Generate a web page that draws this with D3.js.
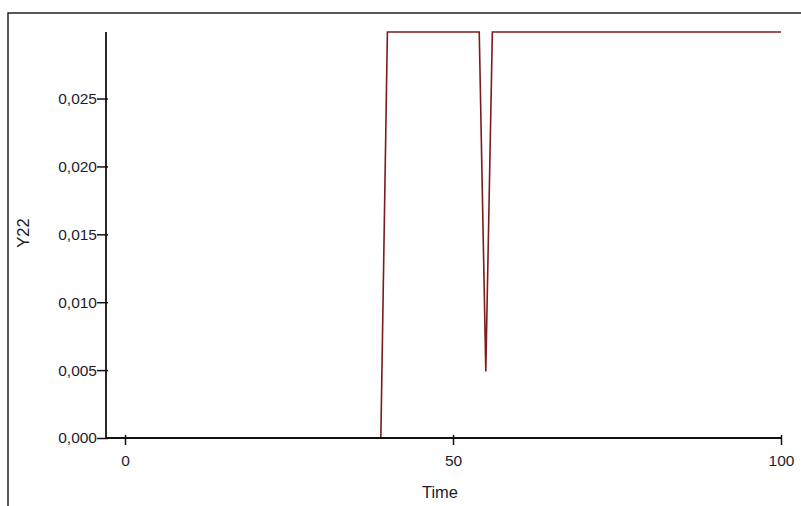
<!DOCTYPE html>
<html><head><meta charset="utf-8">
<script src="https://cdn.jsdelivr.net/npm/d3@7"></script>
<style>body{margin:0;background:#fff}svg{display:block}text{font-family:"Liberation Sans",Arial,sans-serif}</style>
</head><body>
<svg id="c" width="801" height="506"></svg>
<script>
const times  = [0, 39, 40, 54, 55, 56, 100];
const values = [0, 0, 0.0299, 0.0299, 0.0049, 0.0299, 0.0299];
const xTicks = [0, 50, 100];
const yTicks = [0, 0.005, 0.010, 0.015, 0.020, 0.025];
const xTitle = "Time", yTitle = "Y22";

const svg = d3.select("#c");
const textColor = "#1c1c2a";
// outer frame
svg.append("rect").attr("x", 8).attr("y", 13).attr("width", 820).attr("height", 520)
  .attr("fill", "none").attr("stroke", "#222").attr("stroke-width", 1.5);

const x = d3.scaleLinear().domain([0, 100]).range([125, 781]);
const y = d3.scaleLinear().domain([0, 0.0299]).range([438, 32]);

const data = times.map((t, i) => ({t, v: values[i]}));
svg.append("path").datum(data)
  .attr("fill", "none").attr("stroke", "#7b1c1c").attr("stroke-width", 1.6)
  .attr("d", d3.line().x(d => x(d.t)).y(d => y(d.v)));

const fmt = d => d3.format(".3f")(d).replace(".", ",");
const yAxis = svg.append("g").attr("transform", "translate(106,0)")
  .call(d3.axisLeft(y).tickValues(yTicks).tickFormat(fmt).tickSize(9).tickPadding(0).tickSizeOuter(0));
yAxis.select(".domain").attr("d", "M0,32V438");
yAxis.selectAll(".tick line").attr("x1", 2).attr("stroke-width", 1.5);

const xAxis = svg.append("g").attr("transform", "translate(0,438)")
  .call(d3.axisBottom(x).tickValues(xTicks).tickFormat(d3.format("d")).tickSize(7).tickPadding(10).tickSizeOuter(0));
xAxis.select(".domain").attr("d", "M106,0H782");
xAxis.selectAll(".tick line").attr("y1", -3).attr("stroke-width", 1.5);

svg.selectAll(".domain").attr("stroke", "#111").attr("stroke-width", 1.8);
svg.selectAll(".tick line").attr("stroke", "#111");
svg.selectAll(".tick text").attr("font-size", 15.5).attr("fill", textColor).attr("font-family", '"Liberation Sans", Arial, sans-serif');

svg.append("text").attr("x", 440).attr("y", 498).attr("text-anchor", "middle")
  .attr("font-size", 16.5).attr("fill", textColor).text(xTitle);
svg.append("text").attr("transform", "translate(29,233) rotate(-90)").attr("text-anchor", "middle")
  .attr("font-size", 16.5).attr("fill", textColor).text(yTitle);
</script>
</body></html>
